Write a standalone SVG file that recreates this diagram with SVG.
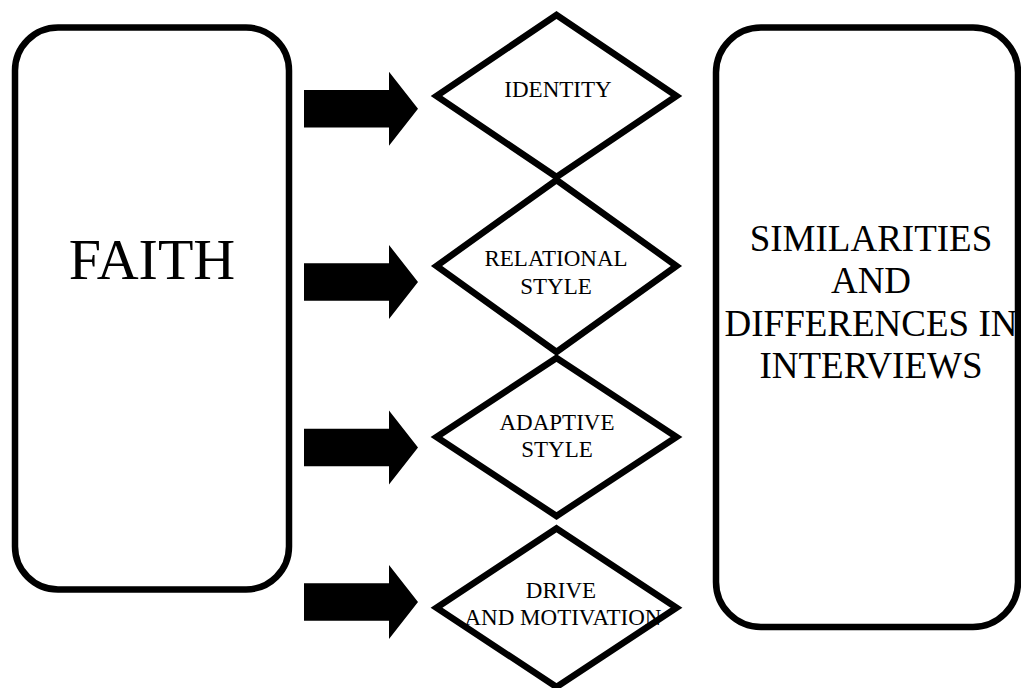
<svg xmlns="http://www.w3.org/2000/svg" xmlns:xlink="http://www.w3.org/1999/xlink" width="1021" height="688" viewBox="0 0 1021 688">
<style>
.box{fill:#fff;stroke:#000;stroke-width:6.5}
.dia{fill:none;stroke:#000;stroke-width:6.5;stroke-linejoin:miter}
.t{font-family:"Liberation Serif","Times New Roman",serif;fill:#000;text-anchor:middle}
.big{font-size:58px}
.mid{font-size:37px}
.sm{font-size:23px}
.arr{fill:#000}
</style>
<defs>
<path id="arrow" class="arr" d="M304,-18.7 H389 V-37 L418,0 L389,37 V18.7 H304 Z"/>
</defs>
<rect width="1021" height="688" fill="#fff"/>
<g id="faith">
<rect class="box" x="15" y="27.5" width="274" height="562" rx="43" ry="43"/>
<text class="t big" x="152" y="279">FAITH</text>
</g>
<g id="similarities">
<rect class="box" x="716" y="27.5" width="302" height="599.5" rx="45" ry="45"/>
<text class="t mid" x="871" y="250.7">SIMILARITIES</text>
<text class="t mid" x="871" y="293.2">AND</text>
<text class="t mid" x="871" y="335.7">DIFFERENCES IN</text>
<text class="t mid" x="871" y="378.2">INTERVIEWS</text>
</g>
<g id="identity">
<polygon class="dia" points="556.5,15 676.5,96 556.5,177 436.5,96"/>
<text class="t sm" x="558" y="96.7">IDENTITY</text>
</g>
<g id="relational">
<polygon class="dia" points="556.5,180 676.5,266 556.5,352 436.5,266"/>
<text class="t sm" x="556" y="266">RELATIONAL</text>
<text class="t sm" x="556" y="294.3">STYLE</text>
</g>
<g id="adaptive">
<polygon class="dia" points="556.5,358 676.5,437 556.5,516 436.5,437"/>
<text class="t sm" x="557" y="430">ADAPTIVE</text>
<text class="t sm" x="557" y="457.3">STYLE</text>
</g>
<g id="drive">
<polygon class="dia" points="556.5,528.5 676.5,607.7 556.5,687 436.5,607.7"/>
<text class="t sm" x="561" y="597.7">DRIVE</text>
<text class="t sm" x="563" y="625">AND MOTIVATION</text>
</g>
<g id="connectors">
<use xlink:href="#arrow" transform="translate(0,108.7)"/>
<use xlink:href="#arrow" transform="translate(0,282)"/>
<use xlink:href="#arrow" transform="translate(0,447.5)"/>
<use xlink:href="#arrow" transform="translate(0,602)"/>
</g>
</svg>
